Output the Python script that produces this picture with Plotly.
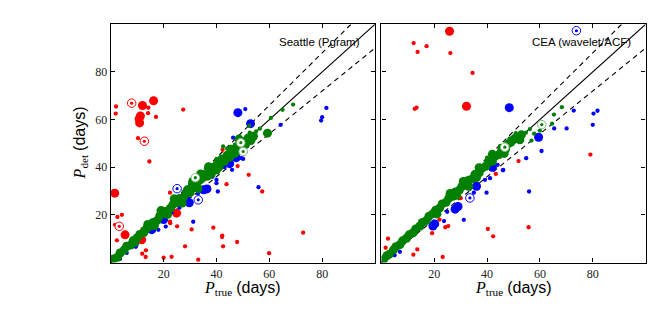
import plotly.graph_objects as go

W, H = 664, 318

# ---------------- data (P_true, P_det) in days ----------------
# Left panel: Seattle (Pgram)
sea_green_big = [(1,1.5),(2.5,2.2),(3.5,4),(5,5.2),(6,6.8),(7.5,7.3),(8.5,9.2),(9,8.4),(10,10.4),(11,11.8),
                 (12.5,12.6),(13.5,14.2),(15,15.3),(16,16.8),(16.5,15.5),(17.5,17.6),(18.5,19.5),(20,20.6),(21,21.4),
                 (21.5,20.2),(22.5,22.8),(23.5,24.3),(25,25.2),(26,26.9),(26.5,25.6),(27.5,27.4),(28.5,29.3),(29,30.5),
                 (30,29.4),(30.5,31),(31.5,32.6),(32.5,31.7),(33.5,34.4),(34.5,35.3),(35.5,36.8),(36.5,36.2),(37.5,38.6),
                 (38,37.2),(38.5,39.8),(39.5,40.3),(40.5,41.8),(41,40.2),(42,43.4),(43,42.5),(44,45),(45,44.2),(45.5,47.5),
                 (46,46.5),(47,45.8),(48,48.7),(48.5,51.8),(49,47.6),(50,50.8),(51,49.5),(52,52.3),(53,51.2),(54,53),
                 (59.3,54.3),(19,21.8),(24,26.8),(31,34),(34,37.2),(37,40.2),(27,25),(33,31),(40,38.8),(14,16)]
sea_green_small = [(42.5,48.7),(44,47.8),(47,49.5),(52.4,57.4),(52.6,54.5),(55,55),(56.4,56.2),(60.6,60.7),
                   (65,64.1),(69,66.3),(12,14),(20,22.5),(30,33),(36,39.5),(40,43.5)]
sea_green_ring = [(49.2,50.3),(50.1,46.6),(32,35.6)]
sea_blue_big = [(48.1,62.9),(52.9,58.3),(29.7,25.1),(35.1,30.5),(36.4,30.9),(20,18),(9,8),(45,41.5),
                (47.5,44),(28.5,26.5),(15.5,13.8)]
sea_blue_small = [(50.9,64.4),(81.6,64.9),(80,61),(79.6,59.6),(64.3,57.8),(46.3,52.4),(50.1,43.5),(45.9,38.9),
                  (55.9,31.6),(40,34.7),(40,33.3),(40.5,29.8),(31.2,17.1),(20.8,15.1),(18,13.7),(16.7,16.5),
                  (14.2,16.6),(9.5,6.6),(38.5,36),(43,40),(49.5,43.8),(23,21),(26,23),(33,29),(37,31.5),(6,4),(3.5,1.5)]
sea_blue_ring = [(25.1,31.0),(33.1,26.3)]
sea_red_big = [(1.5,29.1),(5.4,11.6),(12,65.9),(16.2,67.9),(11.2,61.5),(10.7,60.3),(10.9,58.6),
               (24.9,20.7),(31.2,32.6),(11.7,9.5)]
sea_red_small = [(2.0,65.5),(1.85,62.5),(14.2,65),(14.1,62.7),(17.1,61.1),(27.4,64.2),(10.3,52.2),(14.6,42.4),
                 (22.4,29.3),(43.8,32.9),(52.2,36.8),(57.3,29.8),(4.2,20),(2.5,19.1),(1.6,15.8),(2.3,9.3),
                 (25.1,15.2),(30.6,13.9),(38.8,14.6),(42.2,11.3),(42.1,10.7),(47.8,8.6),(42.5,6.8),(28.1,6.8),
                 (13.3,5.1),(11.9,3.7),(13.2,2.3),(20,2.0),(23,2.4),(33.1,1.2),(59.9,3.9),(72.8,12.5),
                 (42.3,47.3),(48,40.5),(22.5,16.5),(19.2,18.1),(22.4,17.1)]
sea_red_ring = [(7.9,66.9),(12.7,50.9),(3.2,15.2)]

# Right panel: CEA (wavelet/ACF)
cea_green_big = [(0.8,1.2),(2,2.8),(3,3.5),(4.5,5.2),(5.5,6.6),(7,7.5),(8,9.1),(9.5,10.2),(10.5,11.6),(12,12.5),
                 (13,14.1),(14.5,15.2),(15.5,16.8),(17,17.6),(18,19.4),(19.5,20.5),(20.5,21.9),(21,20.4),(22,22.8),
                 (23,24.6),(24.5,25.3),(25.5,27),(27,27.8),(28,29.6),(28.5,28.2),(29.5,30.4),(30.5,32),(32,32.6),
                 (33,34.5),(34.5,35.2),(35.5,37),(36,35.7),(37,37.6),(38,39.5),(39.5,40.4),(40.5,42),(42,42.5),
                 (43,44.6),(44.5,45.3),(45.5,47),(46.5,45.8),(47,47.6),(48,49.8),(49,50.5),(50,51.6),(51,52.5),
                 (52.4,51.5),(53,53.6),(26,29),(31,34),(37,39.8),(42,45.4),(33,32)]
cea_green_small = [(68.3,65.2),(65.3,62.1),(64.6,58.3),(60,55.4),(56.2,56),(57.8,54.1),(54.7,54.5),(50.9,54.3),
                   (56.8,51.2),(45,49),(40,44),(48.5,52)]
cea_green_ring = [(60.7,57.9),(46.7,48.4)]
cea_blue_big = [(48.4,65),(59.5,52.6),(27.9,22.4),(29,23.5),(19.5,15.3),(20.2,16.2),(36,32),(42,40)]
cea_blue_small = [(60.6,46.8),(72.8,63.8),(80.3,62.5),(81.8,63.7),(80,57.8),(70.1,56.3),(65.4,56.3),(54.8,43.8),
                  (46,38.7),(55.9,29.8),(39.8,29.3),(41.1,35.4),(39.2,34.7),(31.2,17.9),(23.7,17.4),(24.9,21.3),
                  (35,29.3),(30.2,33.3),(46.1,38.9),(36.5,31.2),(5,3),(7,4.5),(33.5,31),(44,41)]
cea_blue_ring = [(73.8,97.3),(33.5,27.1)]
cea_red_big = [(25.8,97.1),(32.2,65.6)]
cea_red_small = [(12.2,92.1),(17.1,90.8),(13.7,88.4),(26.1,87.9),(34.5,79.6),(12.6,64.5),(13.3,65),(51.9,42.6),
                 (79.1,45.3),(2.5,10),(1.6,6.2),(13.6,5.5),(12.1,3.3),(23.2,2.3),(19.2,12.3),(24.2,14.8),
                 (25.3,15.3),(40.3,14.1),(42.3,11),(55.7,14.8),(43.3,37.2),(22,18),(30,27)]
cea_red_ring = []

panel_titles = ["Seattle (Pgram)", "CEA (wavelet/ACF)"]
line_x = [0, 100]
ratio_lines = [1.0, 1.1, 0.9]
tick_vals = [20, 40, 60, 80]

RED, BLUE, GREEN = "#ff0000", "#0000ff", "#008000"

fig = go.Figure()

def px_to_frac_x(p):
    return p / W

def px_to_frac_y(p):
    return 1 - p / H

domains_x = [(110.8, 375.0), (381.4, 645.6)]
dom_y = (px_to_frac_y(262.5), px_to_frac_y(24.3))

def add_panel(i, groups):
    xa = "x" if i == 0 else "x2"
    ya = "y" if i == 0 else "y2"
    for r in ratio_lines:
        fig.add_trace(go.Scatter(x=line_x, y=[v * r for v in line_x], mode="lines",
                                 line=dict(color="black", width=1.1,
                                           dash="solid" if r == 1.0 else "5px,4px"),
                                 xaxis=xa, yaxis=ya, hoverinfo="skip", showlegend=False))
    for pts, color, kind in groups:
        if not pts:
            continue
        xs = [p[0] for p in pts]
        ys = [p[1] for p in pts]
        if kind == "ring":
            fig.add_trace(go.Scatter(x=xs, y=ys, mode="markers",
                                     marker=dict(size=8.5, color="white",
                                                 line=dict(color=color if color != GREEN else "#7fbf7f", width=1)),
                                     xaxis=xa, yaxis=ya, showlegend=False))
            fig.add_trace(go.Scatter(x=xs, y=ys, mode="markers",
                                     marker=dict(size=3.2, color=color, line=dict(width=0)),
                                     xaxis=xa, yaxis=ya, showlegend=False))
        else:
            size = 9 if kind == "big" else 4.3
            fig.add_trace(go.Scatter(x=xs, y=ys, mode="markers",
                                     marker=dict(size=size, color=color, line=dict(width=0)),
                                     xaxis=xa, yaxis=ya, showlegend=False))

add_panel(0, [(sea_red_big, RED, "big"), (sea_red_small, RED, "small"),
              (sea_blue_big, BLUE, "big"), (sea_blue_small, BLUE, "small"),
              (sea_green_big, GREEN, "big"), (sea_green_small, GREEN, "small"),
              (sea_red_ring, RED, "ring"), (sea_blue_ring, BLUE, "ring"), (sea_green_ring, GREEN, "ring")])
add_panel(1, [(cea_red_big, RED, "big"), (cea_red_small, RED, "small"),
              (cea_blue_big, BLUE, "big"), (cea_blue_small, BLUE, "small"),
              (cea_green_big, GREEN, "big"), (cea_green_small, GREEN, "small"),
              (cea_red_ring, RED, "ring"), (cea_blue_ring, BLUE, "ring"), (cea_green_ring, GREEN, "ring")])

axis_common = dict(range=[0, 100], showgrid=False, zeroline=False, showline=True, linecolor="black",
                   linewidth=1.3, mirror="ticks", ticks="inside", ticklen=4, tickwidth=1, tickcolor="black",
                   tickvals=tick_vals, tickfont=dict(family="Liberation Serif", size=12, color="#222"))

fig.update_layout(
    width=W, height=H, margin=dict(l=0, r=0, t=0, b=0),
    paper_bgcolor="white", plot_bgcolor="white", showlegend=False,
    xaxis=dict(axis_common, domain=[px_to_frac_x(domains_x[0][0]), px_to_frac_x(domains_x[0][1])], anchor="y"),
    yaxis=dict(axis_common, domain=list(dom_y), anchor="x"),
    xaxis2=dict(axis_common, domain=[px_to_frac_x(domains_x[1][0]), px_to_frac_x(domains_x[1][1])], anchor="y2"),
    yaxis2=dict(axis_common, domain=list(dom_y), anchor="x2", showticklabels=False),
)

sans = "Liberation Sans"
xlabel = '<i>P</i><sub>true</sub> <span style="font-family:Liberation Sans">(days)</span>'
ylabel = '<i>P</i><sub>det</sub> <span style="font-family:Liberation Sans">(days)</span>'
for i, (x0, x1) in enumerate(domains_x):
    fig.add_annotation(x=px_to_frac_x((x0 + x1) / 2), y=px_to_frac_y(288), xref="paper", yref="paper",
                       text=xlabel, showarrow=False, xanchor="center", yanchor="middle",
                       font=dict(family="Liberation Serif", size=16, color="black"))
    fig.add_annotation(x=px_to_frac_x(x1 - 13), y=px_to_frac_y(42), xref="paper", yref="paper",
                       text=panel_titles[i], showarrow=False, xanchor="right", yanchor="middle",
                       font=dict(family=sans, size=11.5, color="black"))
fig.add_annotation(x=px_to_frac_x(80), y=px_to_frac_y(143.4), xref="paper", yref="paper",
                   text=ylabel, showarrow=False, textangle=-90, xanchor="center", yanchor="middle",
                   font=dict(family="Liberation Serif", size=16, color="black"))

fig.write_html("out.html", config={"displayModeBar": False},
               post_script="document.body.style.margin='0';document.body.style.overflow='hidden';")
